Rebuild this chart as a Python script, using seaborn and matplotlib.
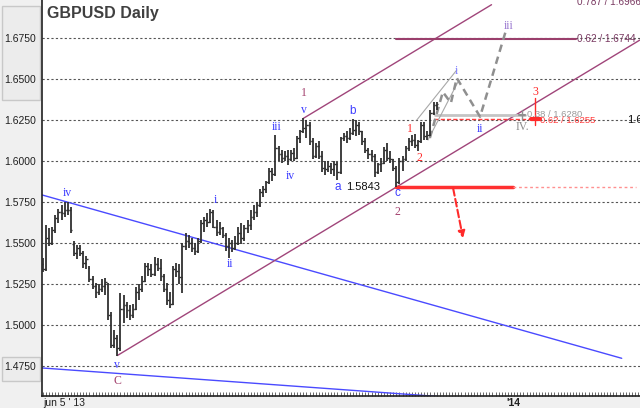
import numpy as np
import pandas as pd
import seaborn as sns
import matplotlib.pyplot as plt
import matplotlib.transforms as mtransforms
from matplotlib.ticker import MultipleLocator, FixedLocator
from matplotlib.patches import Rectangle

# daily GBPUSD bars, jun 5 '13 -> nov 29 '13 (bar index 0..127)
opens = [1.5370, 1.5340, 1.5530, 1.5500, 1.5580, 1.5650, 1.5690, 1.5680, 1.5700, 1.5700,
         1.5495, 1.5440, 1.5470, 1.5440, 1.5380, 1.5350, 1.5280, 1.5240, 1.5200, 1.5220,
         1.5240, 1.5250, 1.5060, 1.4880, 1.4920, 1.4860, 1.5100, 1.5120, 1.5090, 1.5060,
         1.5100, 1.5200, 1.5220, 1.5270, 1.5360, 1.5340, 1.5310, 1.5370, 1.5350, 1.5300,
         1.5220, 1.5150, 1.5130, 1.5340, 1.5330, 1.5290, 1.5480, 1.5510, 1.5500, 1.5470,
         1.5450, 1.5510, 1.5620, 1.5640, 1.5630, 1.5690, 1.5600, 1.5570, 1.5590, 1.5550,
         1.5480, 1.5500, 1.5470, 1.5500, 1.5560, 1.5530, 1.5590, 1.5610, 1.5660, 1.5690,
         1.5730, 1.5810, 1.5830, 1.5870, 1.5940, 1.5920, 1.6080, 1.6040, 1.6020, 1.6030,
         1.6010, 1.6050, 1.6020, 1.6140, 1.6180, 1.6200, 1.6220, 1.6120, 1.6030, 1.6090,
         1.6030, 1.5960, 1.5950, 1.5970, 1.5950, 1.5980, 1.5930, 1.6140, 1.6150, 1.6140,
         1.6170, 1.6190, 1.6220, 1.6180, 1.6120, 1.6070, 1.6040, 1.6030, 1.5930, 1.5980,
         1.5990, 1.6070, 1.6020, 1.6010, 1.5960, 1.5870, 1.6000, 1.6010, 1.6080, 1.6120,
         1.6130, 1.6100, 1.6120, 1.6220, 1.6150, 1.6160, 1.6290, 1.6340]
highs = [1.5410, 1.5610, 1.5590, 1.5600, 1.5670, 1.5710, 1.5730, 1.5750, 1.5752, 1.5720,
         1.5510, 1.5490, 1.5490, 1.5450, 1.5420, 1.5360, 1.5300, 1.5256, 1.5250, 1.5280,
         1.5285, 1.5256, 1.5080, 1.4970, 1.4940, 1.5195, 1.5180, 1.5140, 1.5120, 1.5130,
         1.5230, 1.5250, 1.5300, 1.5380, 1.5380, 1.5370, 1.5415, 1.5410, 1.5400, 1.5310,
         1.5256, 1.5200, 1.5360, 1.5378, 1.5370, 1.5500, 1.5560, 1.5550, 1.5530, 1.5500,
         1.5530, 1.5640, 1.5660, 1.5680, 1.5710, 1.5700, 1.5640, 1.5630, 1.5600, 1.5560,
         1.5530, 1.5520, 1.5540, 1.5600, 1.5620, 1.5610, 1.5640, 1.5700, 1.5730, 1.5750,
         1.5830, 1.5850, 1.5880, 1.5960, 1.5960, 1.6160, 1.6090, 1.6070, 1.6060, 1.6070,
         1.6070, 1.6080, 1.6150, 1.6190, 1.6260, 1.6250, 1.6240, 1.6140, 1.6110, 1.6120,
         1.6060, 1.6000, 1.6000, 1.5990, 1.6000, 1.5995, 1.6146, 1.6170, 1.6180, 1.6200,
         1.6255, 1.6250, 1.6240, 1.6180, 1.6140, 1.6080, 1.6070, 1.6040, 1.5990, 1.6020,
         1.6085, 1.6110, 1.6060, 1.6010, 1.5970, 1.6020, 1.6030, 1.6090, 1.6140, 1.6160,
         1.6165, 1.6130, 1.6240, 1.6240, 1.6180, 1.6310, 1.6360, 1.6360]
lows = [1.5325, 1.5330, 1.5480, 1.5490, 1.5560, 1.5620, 1.5640, 1.5660, 1.5670, 1.5560,
        1.5420, 1.5400, 1.5420, 1.5350, 1.5340, 1.5260, 1.5220, 1.5165, 1.5180, 1.5200,
        1.5180, 1.5030, 1.4860, 1.4860, 1.4814, 1.4840, 1.5010, 1.5040, 1.5030, 1.5040,
        1.5090, 1.5150, 1.5200, 1.5260, 1.5300, 1.5290, 1.5300, 1.5330, 1.5270, 1.5200,
        1.5120, 1.5104, 1.5120, 1.5290, 1.5250, 1.5195, 1.5460, 1.5470, 1.5445, 1.5427,
        1.5440, 1.5500, 1.5570, 1.5600, 1.5620, 1.5590, 1.5540, 1.5550, 1.5530, 1.5450,
        1.5410, 1.5445, 1.5460, 1.5490, 1.5494, 1.5510, 1.5560, 1.5580, 1.5640, 1.5660,
        1.5720, 1.5780, 1.5805, 1.5860, 1.5880, 1.5910, 1.6000, 1.5990, 1.6000, 1.5975,
        1.6000, 1.6000, 1.6010, 1.6110, 1.6170, 1.6140, 1.6100, 1.6010, 1.6020, 1.6010,
        1.5930, 1.5915, 1.5930, 1.5920, 1.5910, 1.5884, 1.5920, 1.6120, 1.6110, 1.6130,
        1.6160, 1.6150, 1.6160, 1.6100, 1.6050, 1.6010, 1.6000, 1.5900, 1.5920, 1.5935,
        1.5980, 1.6000, 1.5990, 1.5940, 1.5843, 1.5860, 1.5940, 1.6000, 1.6060, 1.6090,
        1.6080, 1.6060, 1.6110, 1.6130, 1.6128, 1.6150, 1.6280, 1.6310]
closes = [1.5340, 1.5530, 1.5500, 1.5580, 1.5650, 1.5690, 1.5680, 1.5700, 1.5700, 1.5580,
          1.5440, 1.5470, 1.5440, 1.5380, 1.5400, 1.5280, 1.5240, 1.5200, 1.5220, 1.5240,
          1.5260, 1.5060, 1.4880, 1.4920, 1.4860, 1.5100, 1.5120, 1.5090, 1.5060, 1.5100,
          1.5200, 1.5220, 1.5270, 1.5360, 1.5340, 1.5310, 1.5370, 1.5350, 1.5300, 1.5220,
          1.5150, 1.5130, 1.5340, 1.5330, 1.5290, 1.5480, 1.5510, 1.5500, 1.5470, 1.5450,
          1.5510, 1.5620, 1.5640, 1.5630, 1.5690, 1.5600, 1.5570, 1.5590, 1.5550, 1.5480,
          1.5500, 1.5470, 1.5500, 1.5560, 1.5530, 1.5590, 1.5610, 1.5660, 1.5690, 1.5730,
          1.5810, 1.5830, 1.5870, 1.5940, 1.5920, 1.6080, 1.6040, 1.6020, 1.6030, 1.6010,
          1.6050, 1.6020, 1.6140, 1.6180, 1.6200, 1.6220, 1.6120, 1.6030, 1.6090, 1.6030,
          1.5960, 1.5950, 1.5970, 1.5950, 1.5980, 1.5930, 1.6140, 1.6150, 1.6140, 1.6170,
          1.6190, 1.6220, 1.6180, 1.6120, 1.6070, 1.6040, 1.6030, 1.5930, 1.5980, 1.5990,
          1.6070, 1.6020, 1.6010, 1.5960, 1.5870, 1.6000, 1.6010, 1.6080, 1.6120, 1.6130,
          1.6100, 1.6120, 1.6220, 1.6150, 1.6160, 1.6290, 1.6340, 1.6350]

price_ticks = [1.4750, 1.5000, 1.5250, 1.5500, 1.5750, 1.6000, 1.6250, 1.6500, 1.6750]

# trend lines (bar index, price)
blue_upper = ([-0.3, 186.7], [1.5793, 1.4797])
blue_lower = ([-0.3, 127.4], [1.4738, 1.4564])
chan_lower = ([24, 192.6], [1.4814, 1.6738])
chan_upper = ([84, 144.7], [1.6260, 1.6953])

# projected wave path
proj_x = [124.8, 129.0, 131.6, 133.5, 141.0, 149.4]
proj_y = [1.6140, 1.6421, 1.6354, 1.6506, 1.6270, 1.6799]

# wave labels: (text, bar index, price, colour key)
wave_labels = [
    ("iv", 7.7, 1.5805, "blue"), ("v", 23.9, 1.4756, "blue"), ("C", 23.9, 1.4659, "maroon"),
    ("i", 55.5, 1.5762, "blue"), ("ii", 60.3, 1.5372, "blue"), ("iii", 75.5, 1.6207, "blue"),
    ("iv", 79.7, 1.5909, "blue"), ("v", 84.2, 1.6311, "blue"), ("1", 84.2, 1.6415, "maroon"),
    ("1", 118.4, 1.6195, "red"), ("2", 121.3, 1.6020, "red"), ("2", 114.2, 1.5689, "maroon"),
    ("i", 133.5, 1.6549, "lblue"), ("ii", 141.0, 1.6195, "blue"), ("iii", 150.3, 1.6823, "purple"),
    ("3", 158.7, 1.6421, "red"), ("IV.", 154.8, 1.6207, "gray"),
]
abc_labels = [("a", 95.2, 1.5841), ("b", 100.0, 1.6305), ("c", 114.2, 1.5805)]

colors = {"blue": "#3d3dff", "lblue": "#8080ff", "purple": "#9a78d0",
          "maroon": "#a3416e", "red": "#ff2a2a", "gray": "#8c8c8c"}

sns.set_style("white")
plt.rcParams['font.family'] = ['Liberation Sans', 'DejaVu Sans']

fig = plt.figure(figsize=(6.4, 4.08), dpi=100)
fig.patch.set_facecolor('#f0f0f0')
# left side panel boxes (behind the axes)
fig.patches.append(Rectangle((0.003, 1 - 100 / 408), 0.06, 94 / 408, transform=fig.transFigure,
                             facecolor='#ececec', edgecolor='#c8c8c8', lw=1, zorder=-5))
fig.patches.append(Rectangle((0.003, 1 - 381 / 408), 0.06, 24 / 408, transform=fig.transFigure,
                             facecolor='#ececec', edgecolor='#c8c8c8', lw=1, zorder=-5))

ax = fig.add_axes([42 / 640, 12 / 408, 598 / 640, 396 / 408])
ax.set_facecolor('white')
ax.set_xlim(-0.32, 192.6)
ax.set_ylim(1.45671, 1.69817)

for p in price_ticks:
    ax.axhline(p, color='#555555', lw=0.8, ls=(0, (2, 2)), zorder=1)

# OHLC bars
idx = np.arange(len(closes))
ax.vlines(idx, lows, highs, color='#303030', lw=1.3, zorder=3)
ax.hlines(opens, idx - 0.5, idx, color='#303030', lw=1.0, zorder=3)
ax.hlines(closes, idx, idx + 0.5, color='#303030', lw=1.0, zorder=3)


def seg(xs, ys, **kw):
    sns.lineplot(x=xs, y=ys, ax=ax, sort=False, estimator=None, legend=False, **kw)


seg(*blue_upper, color='#4a4aff', lw=1.0)
seg(*blue_lower, color='#4a4aff', lw=1.0)
seg(*chan_lower, color='#a0457a', lw=1.0)
seg(*chan_upper, color='#a0457a', lw=1.0)

# fib level 0.62 / 1.6744
seg([114.0, 171.9], [1.6744, 1.6744], color='#9a3f6c', lw=1.5)
ax.text(172.3, 1.6744, "0.62 / 1.6744", color='#7a3a62', fontsize=7.2, va='center', ha='left')
ax.text(172.3, 1.6972, "0.787 / 1.6966", color='#7a3a62', fontsize=7.2, va='center', ha='left',
        clip_on=True)

# support 1.5843
seg([114.0, 151.6], [1.5843, 1.5843], color='#ff3030', lw=2.5)
seg([151.6, 191.3], [1.5843, 1.5843], color='#ff9090', lw=1.0, linestyle=(0, (2, 2)))
ax.text(108.8, 1.5843, "1.5843", color='#111111', fontsize=8, va='center', ha='right')
ax.annotate("", xy=(135.5, 1.5530), xytext=(132.3, 1.5835),
            arrowprops=dict(arrowstyle='-|>', color='#ff2a2a', lw=1.5, ls='--',
                            mutation_scale=10, shrinkA=0, shrinkB=0))

# retracement levels near price
seg([126.5, 155.5], [1.6278, 1.6278], color='#c4c4c4', lw=2.0)
ax.text(156.3, 1.6284, "0.38 / 1.6280", color='#9a9a9a', fontsize=6.8, va='center', ha='left')
seg([126.0, 159.4], [1.6255, 1.6255], color='#ff3a3a', lw=1.0, linestyle=(0, (3, 1.5)))
ax.text(160.3, 1.6247, "0.62 / 1.6255", color='#ff3a3a', fontsize=6.8, va='center', ha='left')
seg([154.5, 154.5], [1.6250, 1.6312], color='#909090', lw=1.0)
seg([153.6, 155.4], [1.6282, 1.6282], color='#909090', lw=1.5)
seg([158.7, 158.7], [1.6220, 1.6384], color='#ff2a2a', lw=1.0)
seg([157.3, 160.2], [1.6255, 1.6255], color='#ff2a2a', lw=3.0)
ax.text(188.5, 1.6250, "1.6250", color='#111111', fontsize=8, va='center', ha='left')

# projection
seg([120.6, 133.5], [1.6250, 1.6555], color='#a8a8a8', lw=0.8)
seg([124.2, 134.2], [1.6128, 1.6494], color='#a8a8a8', lw=0.8)
seg(proj_x, proj_y, color='#8f8f8f', lw=1.8, linestyle=(0, (3, 2)))

for txt, x, y, c in wave_labels:
    ax.text(x, y, txt, color=colors[c], fontsize=8.5, ha='center', va='center',
            family=['Liberation Serif', 'DejaVu Serif'])
for txt, x, y in abc_labels:
    ax.text(x, y, txt, color=colors["blue"], fontsize=8.5, ha='center', va='center')

ax.text(0.009, 0.985, "GBPUSD Daily", transform=ax.transAxes, fontsize=11.5,
        fontweight='bold', color='#404040', va='top', ha='left')

# axes styling
for s in ['top', 'right']:
    ax.spines[s].set_visible(False)
for s in ['left', 'bottom']:
    ax.spines[s].set_color('#202020')
    ax.spines[s].set_linewidth(1.2)
ax.yaxis.set_major_locator(FixedLocator(price_ticks))
ax.set_yticklabels([f"{p:.4f}" for p in price_ticks], fontsize=7.5, color='#202020')
ax.tick_params(axis='y', length=0, pad=4)
ax.set_xticks([])
ax.xaxis.set_minor_locator(MultipleLocator(1))
ax.tick_params(axis='x', which='minor', direction='in', length=3, width=0.6,
               color='#505050', bottom=True)

trans = mtransforms.blended_transform_factory(ax.transData, ax.transAxes)
ax.text(0.0, -0.017, "jun 5 ' 13", transform=trans, fontsize=7.5, color='#202020',
        ha='left', va='center', clip_on=False)
ax.text(151.6, -0.017, "'14", transform=trans, fontsize=7.5, color='#202020',
        fontweight='bold', ha='center', va='center', clip_on=False)

fig.savefig("out.png", dpi=100, facecolor=fig.get_facecolor())
